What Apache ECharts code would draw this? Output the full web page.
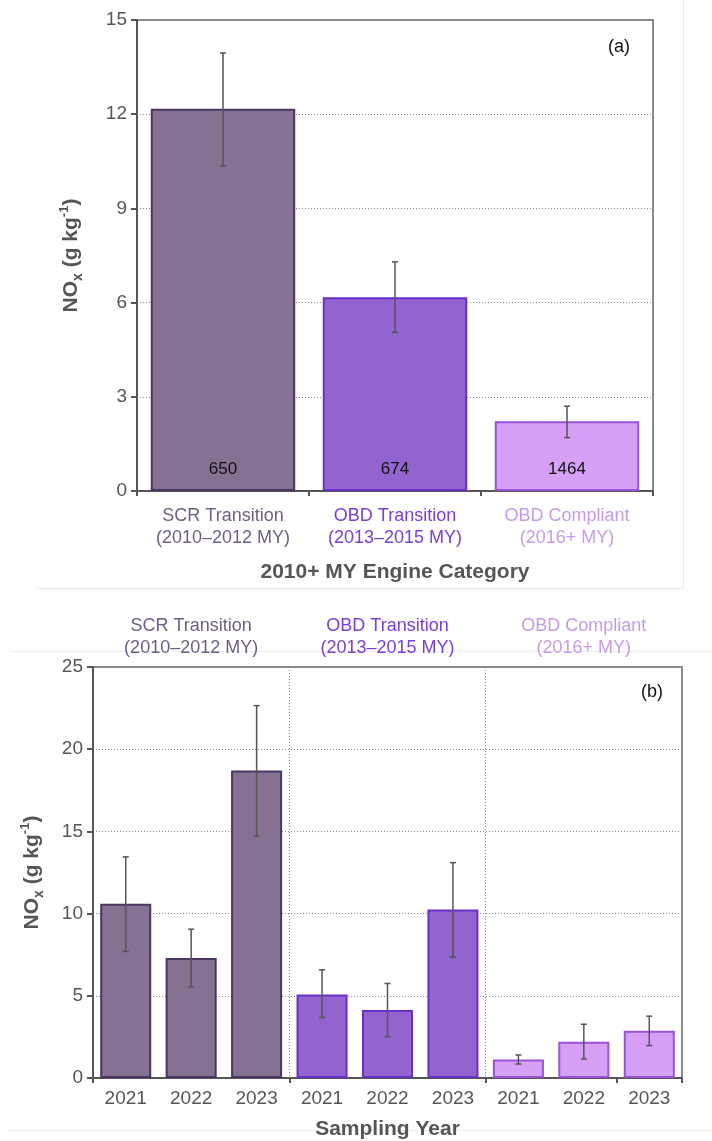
<!DOCTYPE html>
<html>
<head>
<meta charset="utf-8">
<script src="https://cdn.jsdelivr.net/npm/echarts@6/dist/echarts.min.js"></script>
<style>
  html, body { margin: 0; padding: 0; background: #fff; }
  #chart { width: 712px; height: 1141px; }
</style>
</head>
<body>
<div id="chart"></div>
<script>
// (a) NOx by engine category
const categories = ['SCR Transition\n(2010–2012 MY)', 'OBD Transition\n(2013–2015 MY)', 'OBD Compliant\n(2016+ MY)'];
const meanA = [12.17, 6.17, 2.22];
const lowA = [10.35, 5.05, 1.7];
const highA = [13.95, 7.3, 2.7];
const countsA = [650, 674, 1464];

// (b) NOx by sampling year within each category
const groups = ['SCR Transition\n(2010–2012 MY)', 'OBD Transition\n(2013–2015 MY)', 'OBD Compliant\n(2016+ MY)'];
const years = ['2021', '2022', '2023', '2021', '2022', '2023', '2021', '2022', '2023'];
const meanB = [10.6, 7.3, 18.7, 5.08, 4.13, 10.25, 1.12, 2.2, 2.87];
const lowB = [7.7, 5.55, 14.7, 3.68, 2.52, 7.36, 0.85, 1.16, 1.97];
const highB = [13.45, 9.05, 22.65, 6.58, 5.75, 13.1, 1.4, 3.27, 3.76];

// colours per category
const fills = ['#857192', '#9164d0', '#d7a0f7'];
const borders = ['#4b3562', '#6a2fc6', '#9a52d6'];
const textColors = ['#6e5f82', '#7a3fd4', '#c59be6'];

const chart = echarts.init(document.getElementById('chart'));

function errorBar(params, api) {
  const x = api.value(0);
  const lo = api.coord([x, api.value(1)]);
  const hi = api.coord([x, api.value(2)]);
  const w = 3;
  const style = { stroke: '#555', lineWidth: 1.5 };
  return {
    type: 'group',
    children: [
      { type: 'line', shape: { x1: lo[0], y1: lo[1], x2: hi[0], y2: hi[1] }, style: style },
      { type: 'line', shape: { x1: lo[0] - w, y1: lo[1], x2: lo[0] + w, y2: lo[1] }, style: style },
      { type: 'line', shape: { x1: hi[0] - w, y1: hi[1], x2: hi[0] + w, y2: hi[1] }, style: style }
    ]
  };
}

const yName = '{b|NO}{s|x}{b| (g kg}{p|-1}{b|)}';
const yNameRich = {
  b: { fontSize: 21, fontWeight: 'bold', color: '#555', lineHeight: 27, fontFamily: 'Liberation Sans' },
  s: { fontSize: 14, fontWeight: 'bold', color: '#555', verticalAlign: 'bottom', fontFamily: 'Liberation Sans' },
  p: { fontSize: 13, fontWeight: 'bold', color: '#555', verticalAlign: 'top', fontFamily: 'Liberation Sans' }
};

const splitDotted = { show: true, lineStyle: { color: '#888', type: [1, 2], width: 1 } };
const axisLineDark = { show: true, lineStyle: { color: '#555', width: 2 } };

let option = {
  animation: false,
  textStyle: { fontFamily: 'Liberation Sans' },
  grid: [
    { left: 137, top: 20, width: 516, height: 471, show: true, borderColor: '#666', borderWidth: 1.5, backgroundColor: 'transparent' },
    { left: 93, top: 667, width: 589, height: 411, show: true, borderColor: '#666', borderWidth: 1.5, backgroundColor: 'transparent' }
  ],
  xAxis: [
    {
      type: 'category', gridIndex: 0, data: categories,
      axisLine: axisLineDark,
      axisTick: { show: true, length: 5, lineStyle: { color: '#555', width: 2 } },
      axisLabel: {
        interval: 0, hideOverlap: false,
        fontSize: 18, lineHeight: 22, margin: 14,
        color: function (v, i) { return textColors[categories.indexOf(v)]; }
      },
      name: '2010+ MY Engine Category', nameLocation: 'middle', nameGap: 71,
      nameTextStyle: { fontSize: 21, fontWeight: 'bold', color: '#555' }
    },
    {
      type: 'category', gridIndex: 1, data: years,
      axisLine: axisLineDark,
      axisTick: { show: true, length: 5, interval: 2, lineStyle: { color: '#555', width: 2 } },
      axisLabel: { interval: 0, fontSize: 19, color: '#555', margin: 11 },
      name: 'Sampling Year', nameLocation: 'middle', nameGap: 41,
      nameTextStyle: { fontSize: 21, fontWeight: 'bold', color: '#555' }
    },
    {
      type: 'category', gridIndex: 1, data: groups, position: 'top',
      axisLine: { show: false }, axisTick: { show: false },
      axisLabel: {
        interval: 0, hideOverlap: false,
        fontSize: 18, lineHeight: 22, margin: 8,
        color: function (v, i) { return textColors[groups.indexOf(v)]; }
      },
      splitLine: splitDotted
    }
  ],
  yAxis: [
    {
      type: 'value', gridIndex: 0, min: 0, max: 15, interval: 3,
      axisLine: axisLineDark,
      axisTick: { show: true, length: 6, lineStyle: { color: '#555', width: 2 } },
      axisLabel: { fontSize: 19, color: '#555', margin: 10 },
      splitLine: splitDotted,
      name: yName, nameLocation: 'middle', nameGap: 52,
      nameTextStyle: { rich: yNameRich }
    },
    {
      type: 'value', gridIndex: 1, min: 0, max: 25, interval: 5,
      axisLine: axisLineDark,
      axisTick: { show: true, length: 6, lineStyle: { color: '#555', width: 2 } },
      axisLabel: { fontSize: 19, color: '#555', margin: 10 },
      splitLine: splitDotted,
      name: yName, nameLocation: 'middle', nameGap: 47,
      nameTextStyle: { rich: yNameRich }
    }
  ],
  series: [
    {
      type: 'bar', xAxisIndex: 0, yAxisIndex: 0, barWidth: '84%',
      data: meanA.map(function (v, i) {
        return { value: v, itemStyle: { color: fills[i], borderColor: borders[i], borderWidth: 2 } };
      }),
      label: {
        show: true, position: 'insideBottom', distance: 13,
        fontSize: 17, color: '#111',
        formatter: function (p) { return countsA[p.dataIndex]; }
      },
      z: 2
    },
    {
      type: 'custom', xAxisIndex: 0, yAxisIndex: 0,
      renderItem: errorBar,
      data: lowA.map(function (l, i) { return [i, l, highA[i]]; }),
      encode: { x: 0, y: [1, 2] }, z: 5
    },
    {
      type: 'bar', xAxisIndex: 1, yAxisIndex: 1, barWidth: '78%',
      data: meanB.map(function (v, i) {
        const g = Math.floor(i / 3);
        return { value: v, itemStyle: { color: fills[g], borderColor: borders[g], borderWidth: 2 } };
      }),
      z: 2
    },
    {
      type: 'custom', xAxisIndex: 1, yAxisIndex: 1,
      renderItem: errorBar,
      data: lowB.map(function (l, i) { return [i, l, highB[i]]; }),
      encode: { x: 0, y: [1, 2] }, z: 5
    }
  ],
  graphic: [
    { type: 'text', left: 608, top: 38, style: { text: '(a)', fontSize: 18, fill: '#111', fontFamily: 'Liberation Sans' } },
    { type: 'text', left: 641, top: 683, style: { text: '(b)', fontSize: 18, fill: '#111', fontFamily: 'Liberation Sans' } },
    { type: 'line', shape: { x1: 683.5, y1: 0, x2: 683.5, y2: 588 }, style: { stroke: '#ececec', lineWidth: 1 } },
    { type: 'line', shape: { x1: 37, y1: 588.5, x2: 683, y2: 588.5 }, style: { stroke: '#e6e6e6', lineWidth: 1 } },
    { type: 'line', shape: { x1: 10, y1: 651.5, x2: 712, y2: 651.5 }, style: { stroke: '#ececec', lineWidth: 1 } },
    { type: 'line', shape: { x1: 8, y1: 1130.5, x2: 712, y2: 1130.5 }, style: { stroke: '#ececec', lineWidth: 1 } }
  ]
};

chart.setOption(option);
</script>
</body>
</html>
